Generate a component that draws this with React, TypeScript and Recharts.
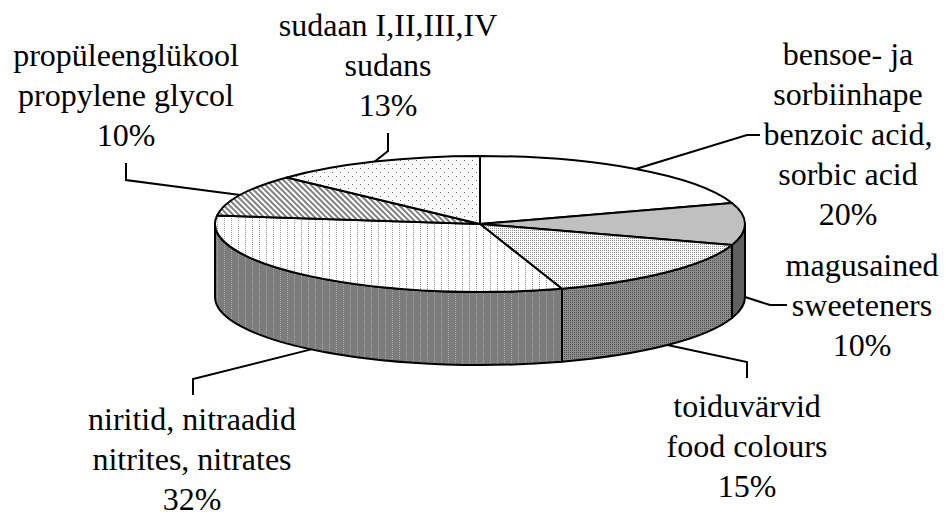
import React from 'react';
import { PieChart, Pie, Cell } from 'recharts';

// shares in %, clockwise from 12 o'clock
const categories = ['benzoic', 'sweeteners', 'colours', 'nitrites', 'glycol', 'sudans'];
const shares = [20, 10, 15, 32, 10, 13];
const namesEt = [
  ['bensoe- ja', 'sorbiinhape'],
  ['magusained'],
  ['toiduvärvid'],
  ['niritid, nitraadid'],
  ['propüleenglükool'],
  ['sudaan I,II,III,IV'],
];
const namesEn = [
  ['benzoic acid,', 'sorbic acid'],
  ['sweeteners'],
  ['food colours'],
  ['nitrites, nitrates'],
  ['propylene glycol'],
  ['sudans'],
];

const data = categories.map((name, i) => ({ name, value: shares[i] }));

const topFills = ['#ffffff', '#c0c0c0', 'url(#dense)', 'url(#vdots)', 'url(#hatch)', 'url(#sparse)'];
const sideFills = ['#ffffff', '#606060', 'url(#denseDark)', 'url(#vdotsDark)', '#808080', '#808080'];

// leader line elbows / label anchors
const labelLayout = [
  { elbow: [747, 135], end: [760, 135], x: 848, y: 65 },
  { elbow: [770, 305], end: [787, 305], x: 862, y: 276 },
  { elbow: [747, 362], end: [747, 378], x: 747, y: 417 },
  { elbow: [193, 379], end: [193, 395], x: 192, y: 430 },
  { elbow: [126, 180], end: [126, 163], x: 126, y: 66 },
  { elbow: [388, 151], end: [388, 133], x: 388, y: 36 },
];

const TILT = 68 / 265;
const DEPTH = 73;
const LINE = 40;
const FONT = 'Liberation Serif, Tinos, Times New Roman, DejaVu Serif, serif';

const pt = (cx: number, cy: number, r: number, a: number) => {
  const rad = (a * Math.PI) / 180;
  return [cx + r * Math.cos(rad), cy - r * TILT * Math.sin(rad)];
};

const TopFace = (props: any) => {
  const { cx, cy, outerRadius, startAngle, endAngle, fill } = props;
  const [x1, y1] = pt(cx, cy, outerRadius, startAngle);
  const [x2, y2] = pt(cx, cy, outerRadius, endAngle);
  const large = Math.abs(startAngle - endAngle) > 180 ? 1 : 0;
  const d = `M${cx},${cy} L${x1},${y1} A${outerRadius},${outerRadius * TILT} 0 ${large} 1 ${x2},${y2} Z`;
  return <path d={d} fill={fill} stroke="#000" strokeWidth={2} strokeLinejoin="round" />;
};

// only the front half (angles 0..-180) of the wall is visible
const SideFace = (props: any) => {
  const { cx, cy, outerRadius, startAngle, endAngle, fill } = props;
  const hi = Math.min(startAngle, 0);
  const lo = Math.max(endAngle, -180);
  if (hi <= lo) return <g />;
  const ry = outerRadius * TILT;
  const [x1, y1] = pt(cx, cy, outerRadius, hi);
  const [x2, y2] = pt(cx, cy, outerRadius, lo);
  const d = `M${x1},${y1} A${outerRadius},${ry} 0 0 1 ${x2},${y2} L${x2},${y2 + DEPTH} A${outerRadius},${ry} 0 0 0 ${x1},${y1 + DEPTH} Z`;
  return <path d={d} fill={fill} stroke="#000" strokeWidth={2} strokeLinejoin="round" />;
};

const renderLabel = (props: any) => {
  const { cx, cy, outerRadius, midAngle, index, value } = props;
  const [sx, top] = pt(cx, cy, outerRadius, midAngle);
  const front = midAngle <= 0 && midAngle >= -180;
  const sy = front ? top + DEPTH : top;
  const lay = labelLayout[index];
  const lines = [...namesEt[index], ...namesEn[index], `${value}%`];
  return (
    <g>
      <polyline
        points={`${sx},${sy} ${lay.elbow[0]},${lay.elbow[1]} ${lay.end[0]},${lay.end[1]}`}
        fill="none"
        stroke="#000"
        strokeWidth={2}
      />
      <text
        x={lay.x}
        y={lay.y}
        textAnchor="middle"
        fontSize={32}
        fill="#000"
        style={{ fontFamily: FONT }}
      >
        {lines.map((l, i) => (
          <tspan key={i} x={lay.x} y={lay.y + i * LINE} style={{ fontFamily: FONT }}>{l}</tspan>
        ))}
      </text>
    </g>
  );
};

export default function App() {
  return (
    <div style={{ width: 946, height: 516, background: '#fff' }}>
      <style>{'body{margin:0}'}</style>
      <PieChart width={946} height={516} margin={{ top: 0, right: 0, bottom: 0, left: 0 }}>
        <defs>
          <pattern id="dense" width={2} height={2} patternUnits="userSpaceOnUse">
            <rect width={2} height={2} fill="#fff" />
            <rect width={1} height={1} fill="#8a8a8a" />
          </pattern>
          <pattern id="vdots" width={7} height={2} patternUnits="userSpaceOnUse">
            <rect width={7} height={2} fill="#fff" />
            <rect width={1} height={1} fill="#9a9a9a" />
          </pattern>
          <pattern id="sparse" width={8} height={8} patternUnits="userSpaceOnUse">
            <rect width={8} height={8} fill="#fff" />
            <rect width={1} height={1} fill="#666" />
            <rect x={4} y={4} width={1} height={1} fill="#666" />
          </pattern>
          <pattern id="hatch" width={4} height={4} patternUnits="userSpaceOnUse" patternTransform="rotate(-45)">
            <rect width={4} height={4} fill="#fff" />
            <rect width={2} height={4} fill="#808080" />
          </pattern>
          <pattern id="denseDark" width={2} height={2} patternUnits="userSpaceOnUse">
            <rect width={2} height={2} fill="#8c8c8c" />
            <rect width={1} height={1} fill="#505050" />
          </pattern>
          <pattern id="vdotsDark" width={7} height={2} patternUnits="userSpaceOnUse">
            <rect width={7} height={2} fill="#7c7c7c" />
            <rect width={1} height={1} fill="#a8a8a8" />
          </pattern>
        </defs>
        <Pie
          data={data}
          dataKey="value"
          cx={480}
          cy={224}
          outerRadius={265}
          startAngle={90}
          endAngle={-270}
          shape={SideFace}
          isAnimationActive={false}
          labelLine={false}
        >
          {data.map((d, i) => (
            <Cell key={`side-${d.name}`} fill={sideFills[i]} />
          ))}
        </Pie>
        <Pie
          data={data}
          dataKey="value"
          cx={480}
          cy={224}
          outerRadius={265}
          startAngle={90}
          endAngle={-270}
          shape={TopFace}
          isAnimationActive={false}
          labelLine={false}
          label={renderLabel}
        >
          {data.map((d, i) => (
            <Cell key={`top-${d.name}`} fill={topFills[i]} />
          ))}
        </Pie>
      </PieChart>
    </div>
  );
}
